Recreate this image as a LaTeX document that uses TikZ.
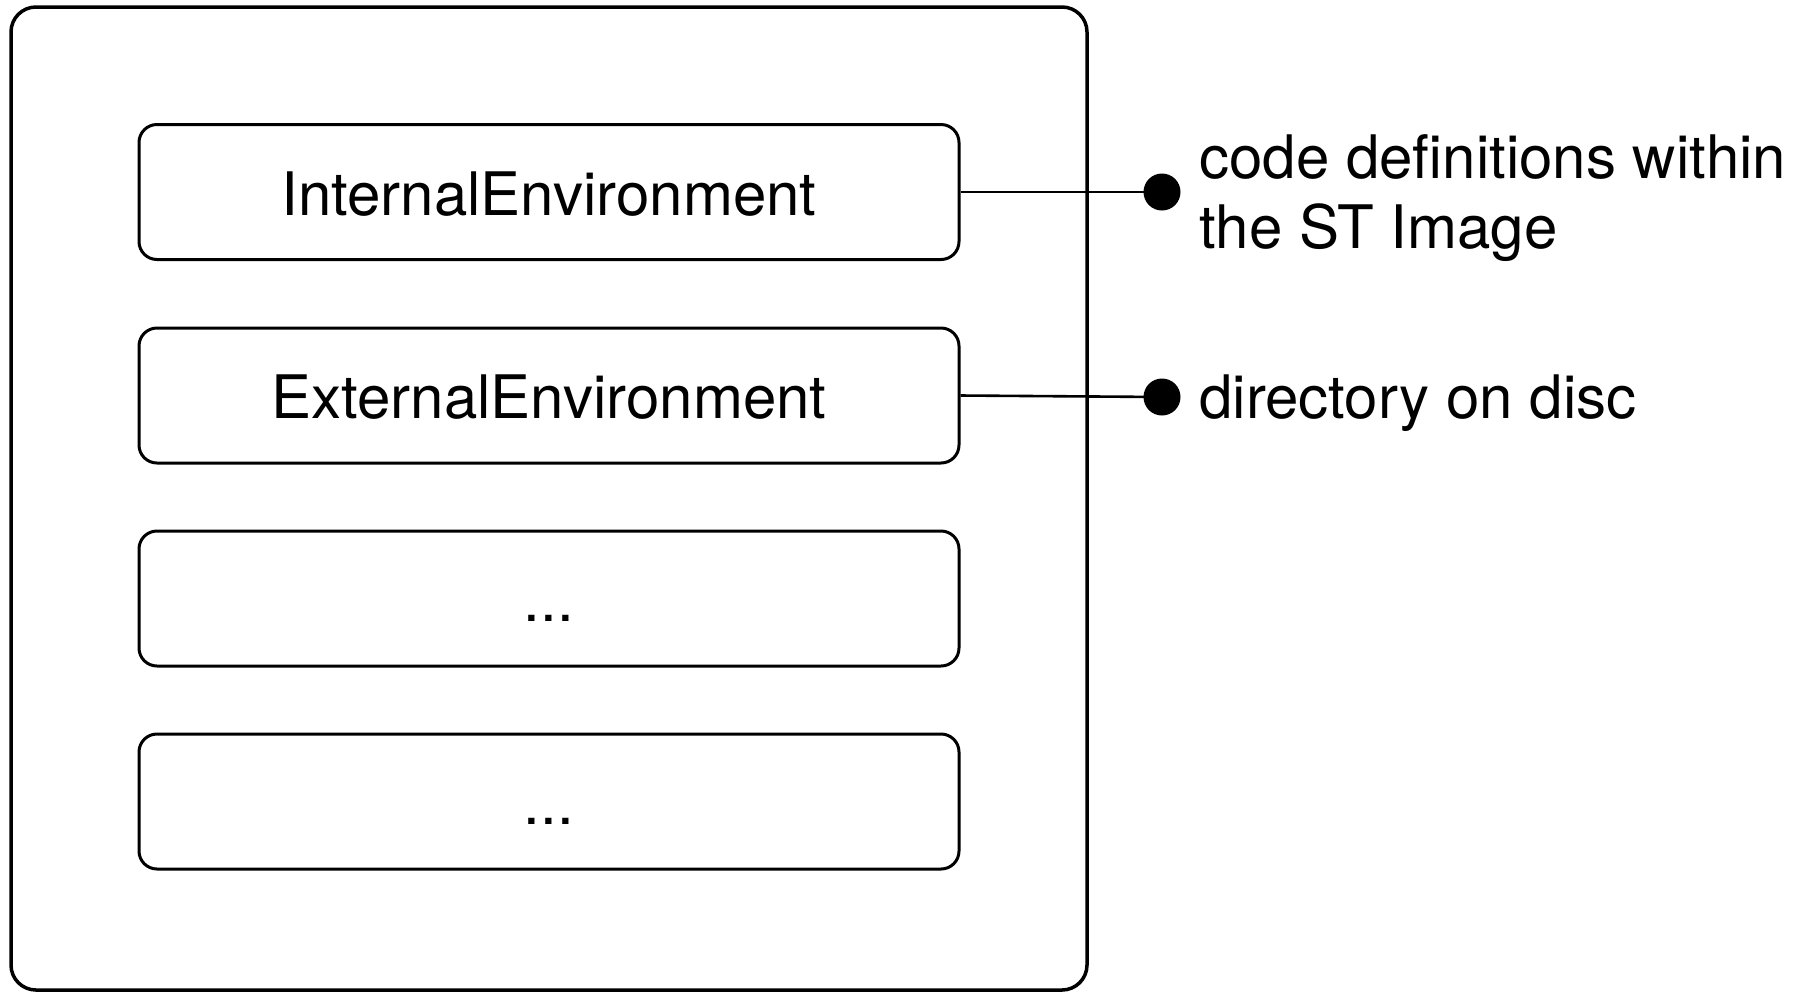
\documentclass[tikz,border=0pt]{standalone}
\usepackage{fontspec}
\setmainfont{TeX Gyre Heros}
\begin{document}
\begin{tikzpicture}[x=0.5pt,y=-0.5pt,
  outerbox/.style={draw=black,line width=1.75pt,rounded corners=12.5pt},
  envbox/.style={draw=black,line width=1.5pt,rounded corners=9pt,
    minimum width=410pt,minimum height=67.5pt,inner sep=0pt,
    text height=23pt,text depth=0pt,
    font=\fontsize{30}{35}\selectfont},
  link/.style={draw=black,line width=1.3pt},
  pin/.style={circle,fill=black,inner sep=0pt,minimum size=18.5pt},
  note/.style={inner sep=0pt,align=left,font=\fontsize{30}{35}\selectfont}]
\useasboundingbox (0,0) rectangle (1809,992);

% enclosing frame
\draw[outerbox] (11,7) rectangle (1087,990);

% environment entries
\node[envbox] (internal) at (549,192) {InternalEnvironment};
\node[envbox] (external) at (549,395.5) {ExternalEnvironment};
\node[envbox] (more1) at (549,598.5) {...};
\node[envbox] (more2) at (549,801.5) {...};

% annotation pins
\node[pin] (pinA) at (1162,192) {};
\node[pin] (pinB) at (1162,397) {};
\draw[link] (internal.east) -- (pinA.center);
\draw[link] (external.east) -- (pinB.center);

% annotations (base anchor sits on the last line)
\node[note,anchor=base west] (noteA) at (1199,248) {code definitions within\\the ST Image};
\node[note,anchor=base west] (noteB) at (1199,418) {directory on disc};
\end{tikzpicture}
\end{document}
